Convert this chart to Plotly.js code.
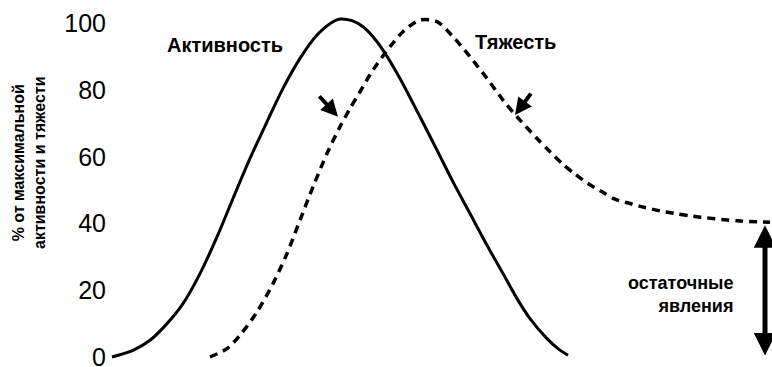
<!DOCTYPE html>
<html>
<head>
<meta charset="utf-8">
<script src="https://cdn.plot.ly/plotly-3.0.1.min.js"></script>
<style>html,body{margin:0;padding:0;background:#fff;}#chart{width:772px;height:367px;}</style>
</head>
<body>
<div id="chart"></div>
<script>
// schematic time axis (arbitrary units)
const activityT = [2, 23, 40, 57, 73, 90, 107, 123, 140, 157, 173, 190, 207, 223, 230, 242, 253, 263, 273, 290, 310, 327, 343, 360, 377, 393, 407, 420, 437, 448, 458];
const activityV = [0, 2, 5, 10, 16, 25, 36, 47.5, 59.5, 70.5, 80.5, 89.5, 96.5, 100.5, 101.3, 100.8, 99, 96, 92, 83.5, 72, 62, 52.5, 43, 33.5, 25, 17.5, 11.5, 5.5, 2.5, 0.5];
const severityT = [100, 117, 130, 147, 163, 177, 190, 203, 217, 230, 240, 250, 263, 280, 293, 310, 327, 343, 360, 377, 393, 407, 427, 440, 452, 465, 478, 492, 505, 520, 535, 550, 565, 580, 597, 612, 628, 647, 660];
const severityV = [0, 2.5, 6.5, 13.5, 22, 31, 41, 51, 61, 69, 74.5, 79.5, 86, 93, 97.5, 101, 100.5, 96, 90, 83.5, 77, 72, 65.5, 61.5, 58, 54.8, 52, 49.5, 47.3, 46, 44.8, 43.8, 43, 42.3, 41.7, 41.2, 40.8, 40.5, 40.4];
const yTicks = [0, 20, 40, 60, 80, 100];
const yTickText = ['0', '20', '40', '60', '80', '100'];
const labels = {activity: 'Активность', severity: 'Тяжесть', residual: 'остаточные<br>явления'};
const yTitle = '% от максимальной<br>активности и тяжести';
const residualLevel = 39.5;

const FONT = 'Liberation Sans, Arial, sans-serif';

const traces = [
  {x: activityT, y: activityV, mode: 'lines', line: {color: '#000', width: 3, shape: 'spline', smoothing: 0.8}, hoverinfo: 'skip', showlegend: false},
  {x: severityT, y: severityV, mode: 'lines', line: {color: '#000', width: 3.5, shape: 'spline', smoothing: 0.8, dash: '8px,6px'}, hoverinfo: 'skip', showlegend: false}
];

const layout = {
  width: 772, height: 367,
  margin: {l: 107, r: 0, t: 10, b: 0},
  paper_bgcolor: '#fff', plot_bgcolor: '#fff',
  font: {family: FONT, color: '#000'},
  xaxis: {range: [-3, 662], showgrid: false, zeroline: false, showline: false, showticklabels: false, ticks: ''},
  yaxis: {
    range: [-3, 104], showgrid: false, zeroline: false, showline: false, ticks: '',
    tickvals: yTicks, ticktext: yTickText, ticklabeloverflow: 'allow',
    tickfont: {size: 25, family: FONT, color: '#000'}
  },
  annotations: [
    {x: -0.117, y: 0.572, xref: 'paper', yref: 'paper', text: '<b>' + yTitle + '</b>', textangle: -90, showarrow: false,
     xanchor: 'center', yanchor: 'middle', font: {size: 16, family: FONT}},
    {x: 115, y: 93.5, xref: 'x', yref: 'y', text: '<b>' + labels.activity + '</b>', showarrow: false, font: {size: 20, family: FONT}},
    {x: 405, y: 94.3, xref: 'x', yref: 'y', text: '<b>' + labels.severity + '</b>', showarrow: false, font: {size: 20, family: FONT}},
    {x: 625, y: 18.6, xref: 'x', yref: 'y', text: '<b>' + labels.residual + '</b>', showarrow: false, align: 'right', xanchor: 'right', font: {size: 18, family: FONT}},
    {x: 228, y: 72, xref: 'x', yref: 'y', ax: -20, ay: -22, text: '', showarrow: true, arrowhead: 2, arrowwidth: 4, arrowsize: 0.85, arrowcolor: '#000', standoff: 0},
    {x: 405, y: 72.5, xref: 'x', yref: 'y', ax: 17, ay: -23, text: '', showarrow: true, arrowhead: 2, arrowwidth: 4, arrowsize: 0.85, arrowcolor: '#000', standoff: 0},
    {x: 655, y: residualLevel, xref: 'x', yref: 'y', axref: 'x', ayref: 'y', ax: 655, ay: 0, text: '', showarrow: true,
     arrowside: 'end+start', arrowhead: 2, startarrowhead: 2, arrowwidth: 5, arrowsize: 0.9, startarrowsize: 0.9, arrowcolor: '#000', standoff: 0, startstandoff: 0}
  ]
};

Plotly.newPlot('chart', traces, layout, {displayModeBar: false, staticPlot: true});
</script>
</body>
</html>
